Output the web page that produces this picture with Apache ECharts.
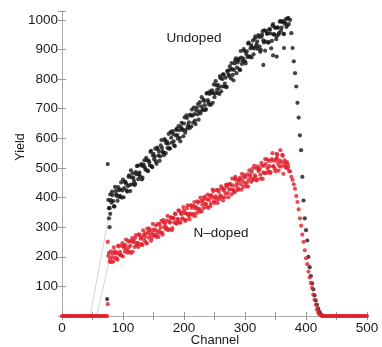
<!DOCTYPE html>
<html><head><meta charset="utf-8">
<script src="https://cdn.jsdelivr.net/npm/echarts@6/dist/echarts.min.js"></script>
<style>html,body{margin:0;padding:0;background:#fff}#c{width:382px;height:347px}</style>
</head><body><div id="c"></div>
<script>
// Channel spacing between consecutive values in each array
const channelStep = 2;

// Undoped yield, even channels 76..426
const undopedEvenStart = 76;
const undopedEven = [
 392, 364, 391, 420, 388, 370, 422, 405, 435, 402,
 427, 400, 461, 432, 452, 424, 439, 475, 422, 468,
 482, 456, 447, 479, 508, 478, 472, 513, 467, 511,
 501, 534, 492, 525, 509, 558, 502, 548, 538, 522,
 569, 542, 524, 576, 567, 552, 597, 550, 589, 582,
 565, 621, 585, 615, 576, 610, 632, 599, 627, 590,
 652, 628, 650, 619, 678, 638, 654, 680, 640, 677,
 704, 660, 694, 681, 663, 722, 708, 694, 731, 712,
 699, 754, 722, 750, 713, 762, 753, 739, 793, 763,
 780, 750, 803, 775, 816, 775, 805, 773, 829, 810,
 832, 854, 814, 831, 863, 820, 856, 869, 830, 873,
 860, 901, 860, 885, 875, 923, 875, 915, 907, 884,
 937, 910, 927, 949, 910, 899, 950, 931, 965, 927,
 953, 923, 969, 954, 929, 986, 951, 974, 945, 974,
 956, 996, 974, 996, 952, 992, 976, 1005, 986,
 1000, 955, 905, 860, 820, 775, 720, 670, 610, 560,
 470, 390, 330, 290, 255, 200, 165, 135, 110, 90,
 70, 52, 38, 25, 14, 6, 2
];

// Undoped yield, odd channels 77..371
const undopedOddStart = 77;
const undopedOdd = [
 364, 411, 383, 408, 370, 436, 411, 389, 425, 406,
 451, 424, 401, 453, 447, 420, 470, 442, 492, 445,
 467, 442, 486, 506, 462, 484, 509, 461, 506, 526,
 494, 526, 489, 519, 554, 506, 542, 529, 565, 514,
 563, 555, 539, 594, 555, 543, 592, 583, 567, 615,
 566, 602, 624, 590, 574, 628, 611, 641, 602, 638,
 631, 607, 671, 629, 669, 645, 634, 677, 697, 653,
 682, 648, 704, 716, 691, 684, 739, 699, 726, 695,
 751, 729, 714, 759, 753, 720, 782, 751, 779, 753,
 770, 810, 759, 800, 815, 785, 774, 826, 816, 843,
 802, 834, 796, 853, 870, 839, 864, 833, 895, 851,
 869, 895, 853, 894, 920, 877, 904, 873, 930, 903,
 944, 917, 902, 942, 892, 943, 962, 924, 896, 962,
 954, 925, 967, 904, 980, 951, 974, 935, 974, 951,
 994, 964, 993, 953, 987, 1003, 981, 1006
];

// N-doped yield, even channels 0..500
const ndopedEvenStart = 0;
const ndopedEven = [
 0, 0, 0, 0, 0, 0, 0, 0, 0, 0,
 0, 0, 0, 0, 0, 0, 0, 0, 0, 0,
 0, 0, 0, 0, 0, 0, 0, 0, 0, 0,
 0, 0, 0, 0, 0, 0, 0, 0,
 203, 183, 218, 199, 184, 218, 211, 195, 238, 208,
 206, 237, 201, 230, 240, 225, 254, 217, 237, 254,
 217, 253, 264, 239, 247, 276, 241, 264, 240, 275,
 268, 248, 295, 265, 289, 254, 281, 292, 271, 306,
 280, 267, 310, 299, 282, 324, 301, 294, 322, 290,
 319, 332, 290, 330, 316, 344, 312, 328, 355, 315,
 344, 330, 356, 321, 346, 374, 338, 346, 373, 341,
 372, 337, 368, 387, 359, 352, 388, 376, 364, 403,
 378, 394, 365, 406, 380, 400, 422, 382, 404, 395,
 426, 395, 407, 430, 390, 430, 414, 444, 415, 428,
 444, 411, 441, 421, 462, 439, 425, 457, 467, 427,
 456, 469, 448, 438, 478, 460, 476, 453, 497, 463,
 475, 499, 461, 490, 497, 464, 508, 485, 482, 513,
 529, 489, 506, 486, 530, 505, 524, 489, 532, 517,
 507, 560, 519, 541, 509, 518, 500, 512, 490,
 488, 470, 460, 445, 430, 405, 385, 360, 330, 305,
 275, 250, 222, 195, 175, 150, 130, 112, 95, 72,
 55, 38, 22, 12, 6, 3, 0,
 0, 0, 0, 0, 0, 0, 0, 0, 0, 0,
 0, 0, 0, 0, 0, 0, 0, 0, 0, 0,
 0, 0, 0, 0, 0, 0, 0, 0, 0, 0,
 0, 0, 0, 0, 0, 0, 0
];

// N-doped yield, odd channels 77..371
const ndopedOddStart = 77;
const ndopedOdd = [
 213, 192, 182, 211, 232, 196, 215, 190, 235, 217,
 205, 246, 236, 217, 258, 214, 231, 251, 213, 263,
 249, 233, 273, 245, 233, 273, 261, 243, 289, 256,
 279, 245, 281, 295, 274, 263, 311, 273, 290, 267,
 310, 288, 281, 321, 275, 316, 312, 299, 338, 293,
 315, 333, 297, 331, 346, 313, 324, 357, 316, 348,
 328, 368, 348, 325, 364, 343, 327, 374, 365, 345,
 385, 363, 348, 383, 362, 400, 353, 389, 398, 378,
 369, 410, 392, 371, 408, 427, 387, 400, 425, 382,
 419, 403, 438, 401, 424, 401, 442, 438, 401, 446,
 428, 464, 426, 417, 464, 448, 429, 461, 445, 480,
 436, 476, 470, 450, 437, 492, 469, 486, 459, 507,
 471, 458, 505, 494, 477, 517, 463, 507, 530, 483,
 500, 524, 482, 525, 550, 505, 497, 530, 544, 491,
 526, 504, 544, 480, 526, 502, 520, 503
];

// Isolated points (edge points and stragglers off the main band)
const undopedExtraCh = [74, 75, 77, 78, 79, 330, 346, 352, 364];
const undopedExtraVal = [57, 513, 330, 300, 345, 848, 880, 876, 905];
const ndopedExtraCh = [75, 75, 284, 352];
const ndopedExtraVal = [40, 250, 470, 548];

// Faint connecting lines across the rising edge
const guideUndopedCh = [46, 76];
const guideUndopedVal = [0, 330];
const guideNdopedCh = [57, 76];
const guideNdopedVal = [0, 175];

const xTickLabels = [0, 100, 200, 300, 400, 500];
const yTickLabels = [100, 200, 300, 400, 500, 600, 700, 800, 900, 1000];

const pairs = (start, vals) => vals.map((v, i) => [start + i * channelStep, v]);
const zip = (xs, ys) => xs.map((x, i) => [x, ys[i]]);

const undopedData = pairs(undopedEvenStart, undopedEven)
  .concat(pairs(undopedOddStart, undopedOdd))
  .concat(zip(undopedExtraCh, undopedExtraVal));
const ndopedData = pairs(ndopedEvenStart, ndopedEven)
  .concat(pairs(ndopedOddStart, ndopedOdd))
  .concat(zip(ndopedExtraCh, ndopedExtraVal));

const chart = echarts.init(document.getElementById('c'), null, {renderer: 'canvas'});
const frame = {lineStyle: {color: '#aaa', width: 1}};
const ticks = {inside: true, length: 4, lineStyle: {color: '#999'}};
const fontFam = 'Liberation Sans, Arial, sans-serif';

chart.setOption({
  animation: false,
  backgroundColor: '#fff',
  grid: {left: 62, right: 15, top: 11, bottom: 31},
  xAxis: [{
    type: 'value', min: 0, max: 500, interval: 50, position: 'bottom',
    axisLine: frame, axisTick: ticks, splitLine: {show: false},
    axisLabel: {margin: 5, color: '#1a1a1a', fontSize: 13.5, fontFamily: fontFam,
      formatter: v => xTickLabels.includes(v) ? String(v) : ''}
  }, {
    type: 'value', min: 0, max: 500, interval: 50, position: 'top',
    axisLine: frame, axisTick: ticks, axisLabel: {show: false}, splitLine: {show: false}
  }],
  yAxis: [{
    type: 'value', min: 0, max: 1030, interval: 100, position: 'left',
    axisLine: frame, axisTick: ticks, splitLine: {show: false},
    axisLabel: {margin: 4, color: '#1a1a1a', fontSize: 13.5, fontFamily: fontFam,
      formatter: v => yTickLabels.includes(v) ? String(v) : ''}
  }, {
    type: 'value', min: 0, max: 1030, interval: 100, position: 'right',
    axisLine: frame, axisTick: ticks, axisLabel: {show: false}, splitLine: {show: false}
  }],
  series: [
    {type: 'line', data: zip(guideUndopedCh, guideUndopedVal), symbol: 'none',
      lineStyle: {color: '#d4d4d4', width: 1}, z: 1},
    {type: 'line', data: zip(guideNdopedCh, guideNdopedVal), symbol: 'none',
      lineStyle: {color: '#d4d4d4', width: 1}, z: 1},
    {type: 'scatter', name: 'Undoped', data: undopedData,
      symbolSize: 4.2, itemStyle: {color: '#151515'}, z: 2},
    {type: 'scatter', name: 'N-doped', data: ndopedData,
      symbolSize: 4.2, itemStyle: {color: '#e01e2b'}, z: 3}
  ],
  graphic: [
    {type: 'text', x: 194, y: 38, style: {text: 'Undoped', fill: '#1a1a1a', align: 'center', verticalAlign: 'middle', font: '13.5px Liberation Sans, Arial, sans-serif'}},
    {type: 'text', x: 221, y: 233, style: {text: 'N\u2013doped', fill: '#1a1a1a', align: 'center', verticalAlign: 'middle', font: '13.5px Liberation Sans, Arial, sans-serif'}},
    {type: 'text', x: 215, y: 340, style: {text: 'Channel', fill: '#1a1a1a', align: 'center', verticalAlign: 'middle', font: '13px Liberation Sans, Arial, sans-serif'}},
    {type: 'text', x: 21, y: 147, rotation: Math.PI / 2, style: {text: 'Yield', fill: '#1a1a1a', align: 'center', verticalAlign: 'middle', font: '12.5px Liberation Sans, Arial, sans-serif'}}
  ]
});
</script>
</body></html>
